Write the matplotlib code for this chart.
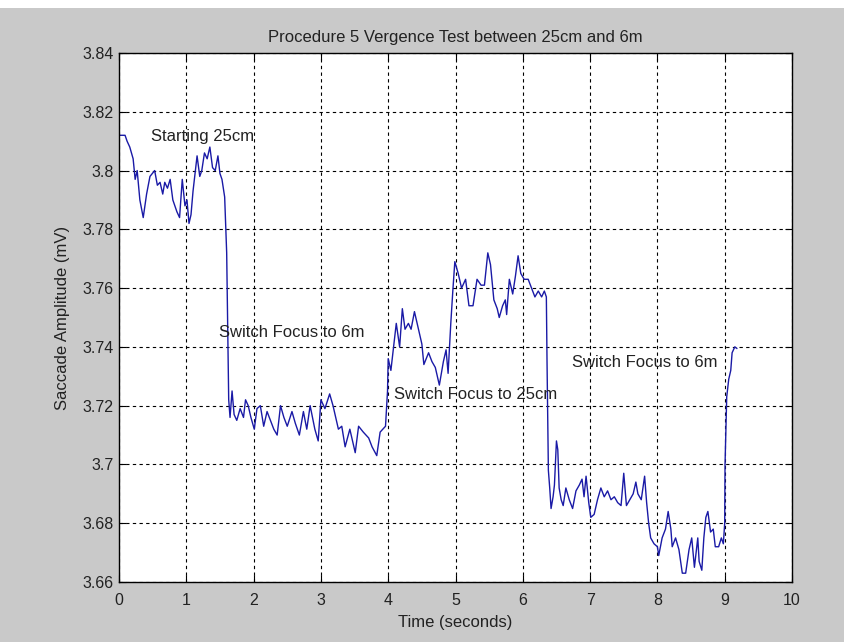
import numpy as np
import matplotlib
matplotlib.use("Agg")
import matplotlib.pyplot as plt
from matplotlib.patches import Rectangle

# Trace (time in seconds, amplitude in mV)
time_s = [
    0.00, 0.09, 0.12, 0.16, 0.21, 0.24, 0.27, 0.31, 0.36, 0.41, 0.46, 0.53, 0.57, 0.61,
    0.65, 0.68, 0.72, 0.76, 0.80, 0.86, 0.90, 0.94, 0.98, 1.01, 1.04, 1.07, 1.10, 1.16,
    1.20, 1.23, 1.27, 1.31, 1.35, 1.39, 1.43, 1.47, 1.50, 1.53, 1.57, 1.60, 1.62, 1.63,
    1.65, 1.68, 1.71, 1.75, 1.80, 1.85, 1.88, 1.92, 1.96, 2.01, 2.05, 2.10, 2.15, 2.20,
    2.25, 2.30, 2.35, 2.40, 2.45, 2.50, 2.57, 2.62, 2.68, 2.74, 2.79, 2.84, 2.91, 2.96,
    3.00, 3.06, 3.13, 3.18, 3.26, 3.31, 3.36, 3.43, 3.51, 3.56, 3.63, 3.71, 3.76, 3.83,
    3.88, 3.96, 3.99, 4.00, 4.04, 4.08, 4.12, 4.17, 4.21, 4.25, 4.30, 4.34, 4.39, 4.45,
    4.50, 4.53, 4.60, 4.65, 4.70, 4.76, 4.82, 4.86, 4.89, 4.93, 4.96, 4.99, 5.04, 5.09,
    5.15, 5.20, 5.26, 5.32, 5.38, 5.43, 5.48, 5.52, 5.57, 5.62, 5.65, 5.70, 5.74, 5.76,
    5.80, 5.85, 5.89, 5.93, 5.97, 6.02, 6.08, 6.13, 6.18, 6.23, 6.28, 6.32, 6.35, 6.36,
    6.38, 6.40, 6.42, 6.45, 6.47, 6.50, 6.52, 6.54, 6.57, 6.60, 6.64, 6.69, 6.74, 6.79,
    6.84, 6.88, 6.91, 6.94, 6.98, 7.01, 7.06, 7.11, 7.16, 7.21, 7.26, 7.31, 7.36, 7.41,
    7.46, 7.50, 7.54, 7.59, 7.64, 7.68, 7.71, 7.76, 7.81, 7.84, 7.87, 7.90, 7.95, 8.00,
    8.02, 8.07, 8.12, 8.16, 8.20, 8.22, 8.27, 8.32, 8.37, 8.42, 8.47, 8.51, 8.55, 8.60,
    8.62, 8.66, 8.69, 8.72, 8.75, 8.79, 8.83, 8.86, 8.91, 8.95, 8.98, 9.00, 9.005, 9.02,
    9.03, 9.06, 9.09, 9.11, 9.15, 9.18,
]
amplitude_mv = [
    3.812, 3.812, 3.810, 3.808, 3.804, 3.797, 3.800, 3.790, 3.784, 3.792, 3.798, 3.800, 3.795, 3.796,
    3.792, 3.796, 3.794, 3.797, 3.790, 3.786, 3.784, 3.797, 3.788, 3.790, 3.782, 3.785, 3.793, 3.805,
    3.798, 3.800, 3.806, 3.804, 3.808, 3.801, 3.800, 3.805, 3.799, 3.797, 3.791, 3.772, 3.740, 3.722,
    3.716, 3.725, 3.717, 3.715, 3.719, 3.716, 3.722, 3.720, 3.716, 3.712, 3.719, 3.720, 3.713, 3.718,
    3.715, 3.712, 3.710, 3.720, 3.716, 3.713, 3.718, 3.714, 3.710, 3.718, 3.712, 3.720, 3.712, 3.708,
    3.722, 3.719, 3.724, 3.720, 3.712, 3.713, 3.706, 3.712, 3.704, 3.713, 3.711, 3.709, 3.706, 3.703,
    3.711, 3.713, 3.725, 3.736, 3.732, 3.740, 3.748, 3.740, 3.753, 3.746, 3.748, 3.746, 3.752, 3.746,
    3.741, 3.734, 3.738, 3.735, 3.733, 3.727, 3.735, 3.739, 3.731, 3.748, 3.759, 3.769, 3.765, 3.760,
    3.763, 3.754, 3.754, 3.763, 3.761, 3.761, 3.772, 3.768, 3.756, 3.753, 3.750, 3.754, 3.756, 3.751,
    3.763, 3.758, 3.764, 3.771, 3.765, 3.763, 3.763, 3.760, 3.757, 3.759, 3.757, 3.759, 3.757, 3.735,
    3.698, 3.692, 3.685, 3.689, 3.693, 3.708, 3.705, 3.692, 3.688, 3.686, 3.692, 3.688, 3.685, 3.691,
    3.693, 3.695, 3.689, 3.696, 3.687, 3.682, 3.683, 3.688, 3.692, 3.689, 3.691, 3.688, 3.689, 3.687,
    3.686, 3.697, 3.686, 3.688, 3.690, 3.694, 3.690, 3.688, 3.696, 3.687, 3.680, 3.675, 3.673, 3.672,
    3.669, 3.675, 3.678, 3.684, 3.678, 3.672, 3.675, 3.671, 3.663, 3.663, 3.671, 3.675, 3.665, 3.675,
    3.667, 3.664, 3.675, 3.682, 3.684, 3.677, 3.678, 3.672, 3.672, 3.675, 3.673, 3.680, 3.700, 3.713,
    3.723, 3.729, 3.732, 3.738, 3.740, 3.7395,
]

# Annotations: (text, time, amplitude)
notes = [
    ("Starting 25cm", 0.47, 3.8117),
    ("Switch Focus to 6m", 1.49, 3.745),
    ("Switch Focus to 25cm", 4.09, 3.7238),
    ("Switch Focus to 6m", 6.73, 3.7346),
]

x_ticks = list(range(0, 11))
y_ticks = [3.66, 3.68, 3.70, 3.72, 3.74, 3.76, 3.78, 3.80, 3.82, 3.84]
y_tick_labels = ["3.66", "3.68", "3.7", "3.72", "3.74", "3.76", "3.78", "3.8", "3.82", "3.84"]

plt.rcParams["font.family"] = ["Liberation Sans", "DejaVu Sans"]

fig = plt.figure(figsize=(8.44, 6.42), dpi=100, facecolor="#c9c9c9")
# thin white strip along the top edge of the screenshot
fig.patches.append(Rectangle((0, 1 - 8 / 642), 1, 8 / 642, transform=fig.transFigure,
                             facecolor="white", edgecolor="none", zorder=0))

ax = fig.add_axes([119 / 844, 60 / 642, 673 / 844, 529 / 642])
ax.set_facecolor("white")

ax.plot(time_s, amplitude_mv, color="#1a1aa6", linewidth=1.0)

for label, tx, ty in notes:
    ax.text(tx, ty, label, fontsize=12, color="#222222", va="center", ha="left")

ax.set_xlim(0, 10)
ax.set_ylim(3.66, 3.84)
ax.set_xticks(x_ticks)
ax.set_yticks(y_ticks)
ax.set_yticklabels(y_tick_labels)

ax.grid(True, color="black", linestyle=(0, (3, 3)), linewidth=0.8)
ax.tick_params(direction="in", top=True, right=True, length=5, labelsize=11.5,
               colors="black", labelcolor="#222222")
ax.tick_params(axis="x", pad=8)
ax.tick_params(axis="y", pad=4)
for spine in ax.spines.values():
    spine.set_linewidth(1.0)

ax.set_title("Procedure 5 Vergence Test between 25cm and 6m", fontsize=12,
             color="#222222", pad=8)
ax.set_xlabel("Time (seconds)", fontsize=12, color="#222222", labelpad=5)
ax.set_ylabel("Saccade Amplitude (mV)", fontsize=12, color="#222222", labelpad=9)

fig.savefig("out.png", dpi=100, facecolor=fig.get_facecolor())
